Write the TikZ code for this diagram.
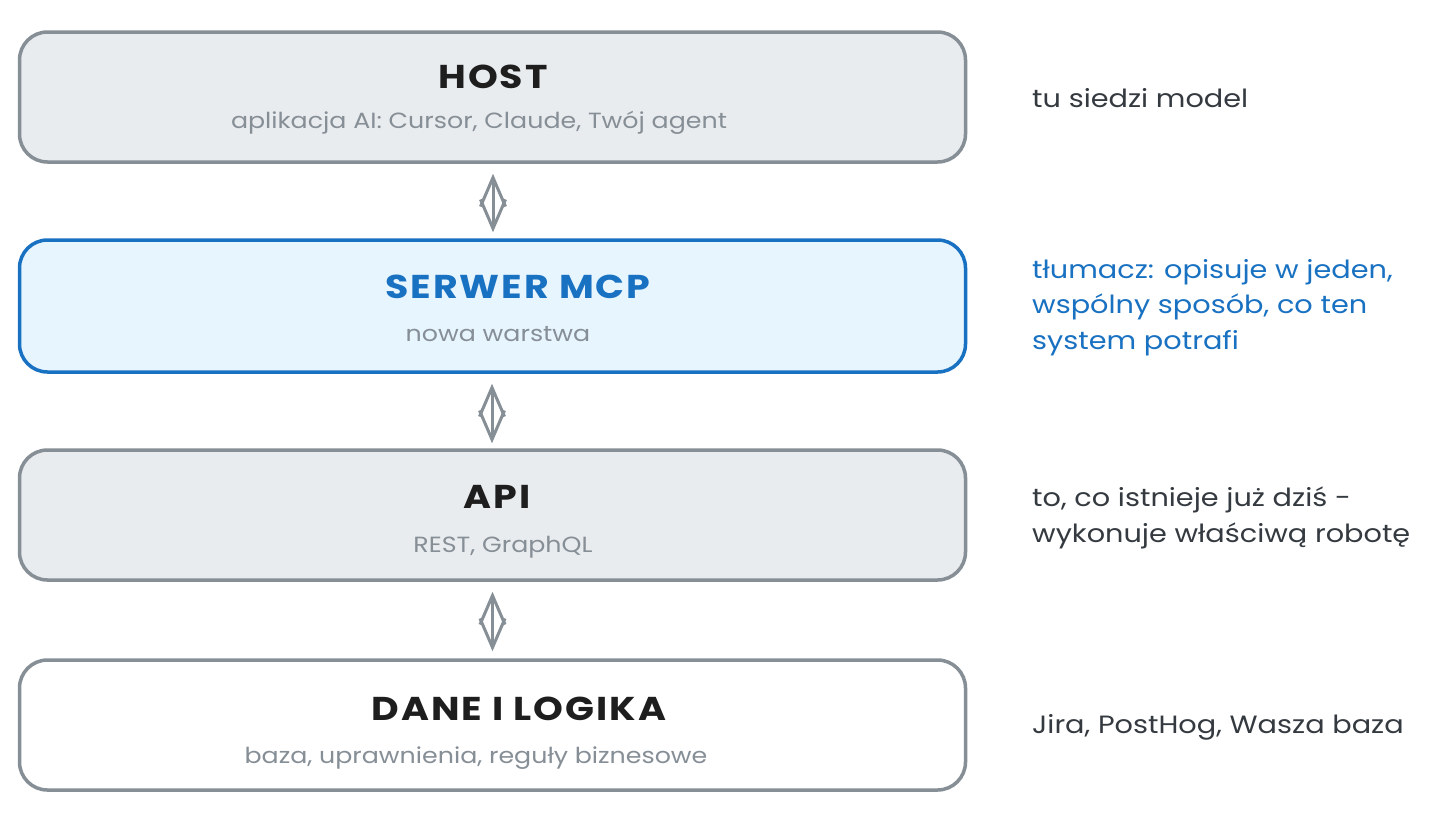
\documentclass[tikz,border=0pt]{standalone}
\usepackage{fontspec}
\setmainfont{Poppins}[FakeStretch=1.15]
\usetikzlibrary{arrows.meta}
\definecolor{grayline}{HTML}{868E96}
\definecolor{grayfill}{HTML}{E9ECEF}
\definecolor{blueline}{HTML}{1971C2}
\definecolor{bluefill}{HTML}{E7F5FF}
\definecolor{titletext}{HTML}{1E1E1E}
\definecolor{sidetext}{HTML}{343A40}
\tikzset{
  layerbox/.style={draw=grayline, fill=grayfill, line width=3.5pt, rounded corners=28pt,
    minimum width=946pt, minimum height=130pt, inner sep=0pt},
  titletxt/.style={anchor=base, text=titletext, inner sep=0pt,
    font=\fontsize{33}{38}\selectfont\bfseries\addfontfeatures{LetterSpace=6}},
  subtxt/.style={anchor=base, text=grayline, inner sep=0pt, font=\fontsize{22}{26}\selectfont},
  sidetxt/.style={anchor=base west, text=sidetext, inner sep=0pt, align=left,
    font=\fontsize{25}{35.5}\selectfont},
  duplex/.style={draw=grayline, line width=3pt, line cap=round,
    {Straight Barb[length=29pt,width=25pt,line width=3pt]}-{Straight Barb[length=29pt,width=25pt,line width=3pt]}},
}
\begin{document}
\begin{tikzpicture}[x=1pt,y=-1pt]
\useasboundingbox[fill=white] (0,0) rectangle (1456,823);

\node[layerbox] (host) at (492.5,97) {};
\node[layerbox, draw=blueline, fill=bluefill, minimum height=132pt] (mcp) at (492.5,306) {};
\node[layerbox] (api) at (492.5,515) {};
\node[layerbox, fill=white] (dane) at (492.5,725) {};

\node[titletxt] (hostT) at (493,88) {HOST};
\node[subtxt] (hostS) at (479,128) {aplikacja AI: Cursor, Claude, Twój agent};
\node[titletxt, text=blueline] (mcpT) at (518,298) {SERWER MCP};
\node[subtxt] (mcpS) at (498,341) {nowa warstwa};
\node[titletxt] (apiT) at (497,508) {API};
\node[subtxt] (apiS) at (503,552) {REST, GraphQL};
\node[titletxt] (daneT) at (519,720) {DANE I LOGIKA};
\node[subtxt] (daneS) at (476,763) {baza, uprawnienia, reguły biznesowe};

\node[sidetxt] (hostR) at (1032,107) {tu siedzi model};
\node[sidetxt, text=blueline] (mcpR) at (1032,349) {tłumacz: opisuje w jeden,\\wspólny sposób, co ten\\system potrafi};
\node[sidetxt] (apiR) at (1032,542) {to, co istnieje już dziś -\\wykonuje właściwą robotę};
\node[sidetxt] (daneR) at (1032,733) {Jira, PostHog, Wasza baza};

\draw[duplex, shorten <=10pt, shorten >=6pt] ([xshift=0.5pt]host.south) -- ([xshift=0.5pt]mcp.north);
\draw[duplex, shorten <=10pt, shorten >=5pt] ([xshift=-0.5pt]mcp.south) -- ([xshift=-0.5pt]api.north);
\draw[duplex, shorten <=10pt, shorten >=7pt] (api.south) -- (dane.north);
\end{tikzpicture}
\end{document}
